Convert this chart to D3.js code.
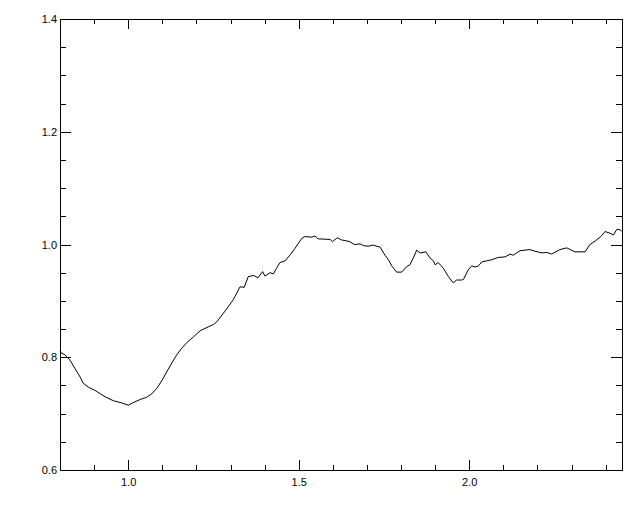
<!DOCTYPE html>
<html>
<head>
<meta charset="utf-8">
<script src="https://cdn.jsdelivr.net/npm/d3@7"></script>
<style>
  body { margin: 0; background: #fff; }
  svg { display: block; }
  .axis text { font-family: "Liberation Sans", Arial, sans-serif; font-size: 11px; fill: #000; }
  .axis line, .axis path { stroke: #000; stroke-width: 1; shape-rendering: crispEdges; }
</style>
</head>
<body>
<div class="graph"></div>
<script>
const w = 640;
const h = 512;
const margin = {top: 19, right: 18, bottom: 42, left: 60};

// curve
const xs = [0.800, 0.803, 0.815, 0.829, 0.844, 0.859, 0.868, 0.883, 0.903, 0.932,
            0.956, 0.981, 1.000, 1.010, 1.020, 1.035, 1.054, 1.069, 1.084, 1.098,
            1.113, 1.128, 1.142, 1.157, 1.172, 1.191, 1.211, 1.235, 1.250, 1.260,
            1.284, 1.308, 1.328, 1.340, 1.352, 1.368, 1.381, 1.394, 1.401, 1.416,
            1.426, 1.435, 1.445, 1.460, 1.474, 1.489, 1.509, 1.518, 1.538, 1.548,
            1.557, 1.592, 1.599, 1.613, 1.626, 1.636, 1.650, 1.663, 1.680, 1.690,
            1.704, 1.719, 1.733, 1.738, 1.753, 1.763, 1.773, 1.787, 1.802, 1.817,
            1.826, 1.836, 1.846, 1.856, 1.873, 1.885, 1.895, 1.900, 1.909, 1.924,
            1.939, 1.953, 1.963, 1.978, 1.983, 1.997, 2.007, 2.017, 2.027, 2.037,
            2.051, 2.066, 2.085, 2.105, 2.120, 2.129, 2.149, 2.178, 2.193, 2.213,
            2.227, 2.242, 2.266, 2.286, 2.310, 2.340, 2.354, 2.369, 2.386, 2.398,
            2.413, 2.423, 2.433, 2.443, 2.447];
const ys = [0.810, 0.808, 0.804, 0.795, 0.780, 0.765, 0.754, 0.747, 0.741, 0.730,
            0.723, 0.719, 0.715, 0.718, 0.721, 0.725, 0.729, 0.735, 0.745, 0.758,
            0.774, 0.790, 0.804, 0.816, 0.826, 0.836, 0.847, 0.854, 0.858, 0.863,
            0.882, 0.902, 0.925, 0.924, 0.943, 0.945, 0.941, 0.952, 0.944, 0.950,
            0.948, 0.958, 0.968, 0.971, 0.981, 0.993, 1.011, 1.014, 1.013, 1.015,
            1.010, 1.009, 1.005, 1.012, 1.008, 1.007, 1.005, 1.000, 1.001, 0.998,
            0.997, 0.999, 0.996, 0.996, 0.981, 0.973, 0.962, 0.951, 0.951, 0.961,
            0.964, 0.976, 0.990, 0.985, 0.987, 0.976, 0.971, 0.964, 0.968, 0.958,
            0.943, 0.932, 0.937, 0.937, 0.938, 0.955, 0.962, 0.960, 0.962, 0.969,
            0.971, 0.973, 0.977, 0.978, 0.983, 0.981, 0.989, 0.991, 0.988, 0.985,
            0.986, 0.983, 0.991, 0.994, 0.987, 0.987, 1.000, 1.006, 1.014, 1.023,
            1.020, 1.017, 1.027, 1.026, 1.023];

const xMajor = [1.0, 1.5, 2.0];
const xMinor = d3.range(8, 25).map(d => d / 10);
const yMajor = [0.6, 0.8, 1.0, 1.2, 1.4];
const yMinor = d3.range(12, 29).map(d => d / 20);

const data = xs.map((x, i) => ({x: x, y: ys[i]}));

const x = d3.scaleLinear()
            .domain([0.8, 2.448])
            .range([margin.left, w - margin.right]);
const y = d3.scaleLinear()
            .domain([0.6, 1.4])
            .range([h - margin.bottom, margin.top]);

const canvas = d3.select(".graph")
                 .append("svg")
                 .attr("width", w)
                 .attr("height", h);

const x0 = margin.left, x1 = w - margin.right;
const y0 = h - margin.bottom, y1 = margin.top;

// bottom axis: minor + labelled major ticks, pointing inward
canvas.append("g").attr("class", "axis")
      .attr("transform", `translate(0, ${y0})`)
      .call(d3.axisBottom(x).tickValues(xMinor).tickSize(-5).tickSizeOuter(0).tickFormat(""));
canvas.append("g").attr("class", "axis")
      .attr("transform", `translate(0, ${y0})`)
      .call(d3.axisBottom(x).tickValues(xMajor).tickSize(-10).tickSizeOuter(0)
              .tickPadding(8).tickFormat(d3.format(".1f")))
      .call(g => g.select(".domain").remove());

// top axis
canvas.append("g").attr("class", "axis")
      .attr("transform", `translate(0, ${y1})`)
      .call(d3.axisTop(x).tickValues(xMinor).tickSize(-5).tickSizeOuter(0).tickFormat(""));
canvas.append("g").attr("class", "axis")
      .attr("transform", `translate(0, ${y1})`)
      .call(d3.axisTop(x).tickValues(xMajor).tickSize(-10).tickSizeOuter(0).tickFormat(""))
      .call(g => g.select(".domain").remove());

// left axis
canvas.append("g").attr("class", "axis")
      .attr("transform", `translate(${x0}, 0)`)
      .call(d3.axisLeft(y).tickValues(yMinor).tickSize(-6).tickSizeOuter(0).tickFormat(""));
canvas.append("g").attr("class", "axis")
      .attr("transform", `translate(${x0}, 0)`)
      .call(d3.axisLeft(y).tickValues(yMajor).tickSize(-11).tickSizeOuter(0)
              .tickPadding(3).tickFormat(d3.format(".1f")))
      .call(g => g.select(".domain").remove());

// right axis
canvas.append("g").attr("class", "axis")
      .attr("transform", `translate(${x1}, 0)`)
      .call(d3.axisRight(y).tickValues(yMinor).tickSize(-6).tickSizeOuter(0).tickFormat(""));
canvas.append("g").attr("class", "axis")
      .attr("transform", `translate(${x1}, 0)`)
      .call(d3.axisRight(y).tickValues(yMajor).tickSize(-11).tickSizeOuter(0).tickFormat(""))
      .call(g => g.select(".domain").remove());

const line = d3.line()
               .x(d => x(d.x))
               .y(d => y(d.y));

canvas.append("path")
      .datum(data)
      .attr("fill", "none")
      .attr("stroke", "#000")
      .attr("stroke-width", 1)
      .attr("d", line);
</script>
</body>
</html>
